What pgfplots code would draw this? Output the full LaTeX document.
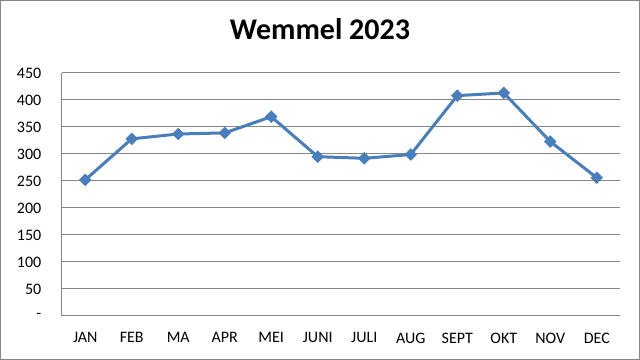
\documentclass[border=0pt]{standalone}
\usepackage{pgfplots}
\pgfplotsset{compat=1.18}
\usepackage{fontspec}
\setmainfont{Carlito}
\definecolor{linecol}{HTML}{4A7EBB}
\definecolor{gridcol}{HTML}{868686}
\begin{document}
\begin{tikzpicture}[x=1pt,y=1pt]
\draw[gridcol,line width=0.75pt] (0.4,0.4) rectangle (479.6,269.6);
\begin{axis}[
  at={(46.5pt,33pt)}, anchor=south west,
  scale only axis, width=418.5pt, height=182.25pt,
  xmin=-0.5, xmax=11.5, ymin=0, ymax=450,
  xtick={0,...,11},
  xticklabels={JAN,FEB,MA,APR,MEI,JUNI,JULI,AUG,SEPT,OKT,NOV,DEC},
  ytick={0,50,...,450},
  yticklabels={-,50,100,150,200,250,300,350,400,450},
  ymajorgrids, grid style={gridcol,line width=0.75pt},
  axis x line*=bottom, axis y line*=left,
  axis line style={gridcol,line width=0.75pt,-},
  major tick length=0pt,
  tick label style={font=\fontsize{12}{14}\selectfont, text=black},
  xticklabel style={yshift=-9pt},
  yticklabel style={xshift=-12pt},
  /pgf/number format/assume math mode=true,
  clip=false,
]
\addplot[linecol, line width=2.25pt, mark=square*, mark size=3.1pt, mark options={fill=linecol, line width=0.4pt, rotate=45}]
coordinates {(0,252)(1,328)(2,337)(3,339)(4,369)(5,295)(6,292)(7,299)(8,408)(9,413)(10,323)(11,256)};
\end{axis}
\node[anchor=base, font=\bfseries\fontsize{22.5}{25}\selectfont] at (240pt,240.5pt) {Wemmel 2023};
\end{tikzpicture}
\end{document}
